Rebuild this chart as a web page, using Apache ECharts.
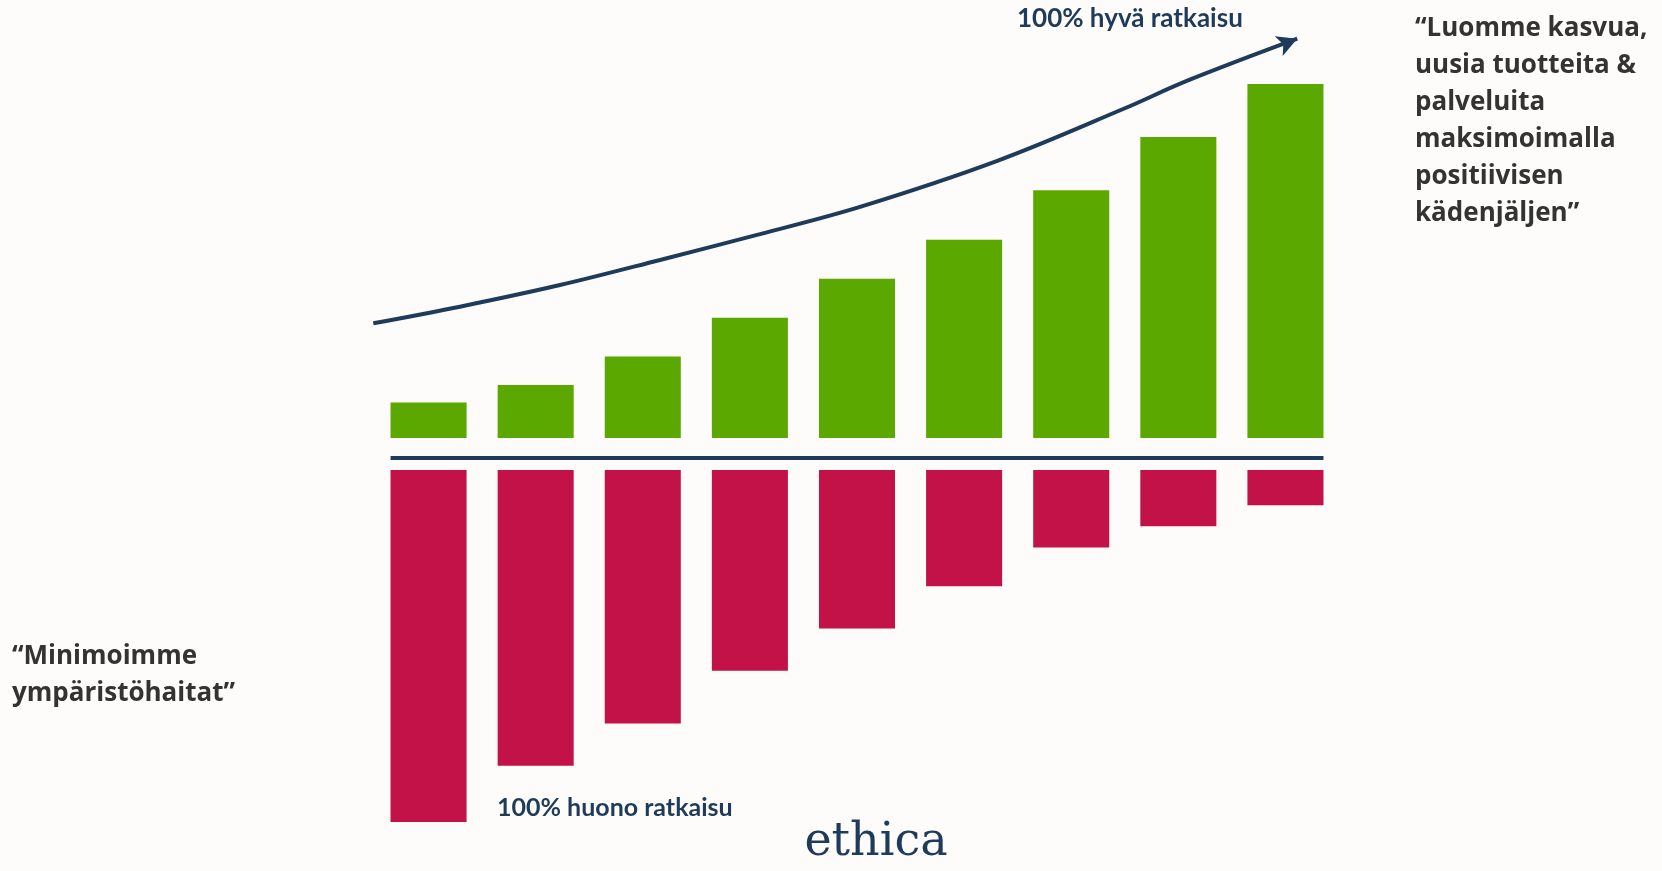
<!DOCTYPE html>
<html>
<head>
<meta charset="utf-8">
<script src="https://cdn.jsdelivr.net/npm/echarts@6/dist/echarts.min.js"></script>
<style>
html,body{margin:0;padding:0;background:#fdfcfa;}
#main{width:1662px;height:871px;}
</style>
</head>
<body>
<div id="main"></div>
<script>
// ---- data ----
const categories = ['1','2','3','4','5','6','7','8','9'];
const positiveValues = [10, 15, 23, 34, 45, 56, 70, 85, 100];
const negativeValues = [100, 84, 72, 57, 45, 33, 22, 16, 10];
// trend arrow (x in category index units, y in positive-axis units)
const trendX = [-0.516, 0.293, 1.227, 2.161, 3.094, 4.028, 5.31, 6.49, 7.09, 8.11];
const trendY = [32.4, 37.1, 43.2, 50.3, 57.6, 65.3, 78.3, 93.0, 101.0, 112.8];
const topLabel = '100% hyvä ratkaisu';
const bottomLabel = '100% huono ratkaisu';
const rightQuote = ['“Luomme kasvua,', 'uusia tuotteita &', 'palveluita', 'maksimoimalla', 'positiivisen', 'kädenjäljen”'];
const leftQuote = ['“Minimoimme', 'ympäristöhaitat”'];
const logoText = 'ethica';

const NAVY = '#1f3b5a';
const GREEN = '#5ba800';
const RED = '#c21247';
const TEXT = '#333333';

const chart = echarts.init(document.getElementById('main'));

const trendData = trendX.map((x, i) => {
  if (i === trendX.length - 1) {
    return { value: [x, trendY[i]], symbol: 'arrow', symbolSize: [16, 20], symbolRotate: -68,
             itemStyle: { color: NAVY } };
  }
  return [x, trendY[i]];
});

const option = {
  backgroundColor: '#fdfcfa',
  animation: false,
  grid: [
    { left: 375, width: 964, top: 84, height: 354 },
    { left: 375, width: 964, top: 470, height: 352 }
  ],
  xAxis: [
    { type: 'category', data: categories, gridIndex: 0, show: false },
    { type: 'category', data: categories, gridIndex: 1, show: false },
    { type: 'value', gridIndex: 0, min: -0.5, max: 8.5, show: false }
  ],
  yAxis: [
    { type: 'value', gridIndex: 0, min: 0, max: 100, show: false },
    { type: 'value', gridIndex: 1, min: 0, max: 100, inverse: true, show: false }
  ],
  series: [
    { type: 'bar', xAxisIndex: 0, yAxisIndex: 0, data: positiveValues,
      barCategoryGap: '29%', itemStyle: { color: GREEN } },
    { type: 'bar', xAxisIndex: 1, yAxisIndex: 1, data: negativeValues,
      barCategoryGap: '29%', itemStyle: { color: RED } },
    { type: 'line', xAxisIndex: 2, yAxisIndex: 0, data: trendData, smooth: 0.35, clip: false,
      symbol: 'circle', symbolSize: 0, showSymbol: true, showAllSymbol: true,
      lineStyle: { color: NAVY, width: 4 }, itemStyle: { color: NAVY } }
  ]
};
chart.setOption(option);

// decorations computed from the axes
const c0 = chart.convertToPixel({ xAxisIndex: 1, yAxisIndex: 1 }, [0, 0]);
const c1 = chart.convertToPixel({ xAxisIndex: 1, yAxisIndex: 1 }, [1, 0]);
const c8 = chart.convertToPixel({ xAxisIndex: 1, yAxisIndex: 1 }, [8, 0]);
const band = c1[0] - c0[0];
const bw = band * 0.71;
const topBase = chart.convertToPixel({ xAxisIndex: 0, yAxisIndex: 0 }, [0, 0])[1];
const lineY = (topBase + c0[1]) / 2 + 4;

const font = 'bold 26px "Open Sans", Lato, sans-serif';
const labelFont = 'bold 25px Lato, "Open Sans", sans-serif';

chart.setOption({
  graphic: [
    { type: 'line', shape: { x1: c0[0] - bw / 2, y1: lineY, x2: c8[0] + bw / 2, y2: lineY },
      style: { stroke: NAVY, lineWidth: 4 } },
    { type: 'text', x: 1017, y: 19, style: { text: topLabel, font: 'bold 26px Lato, "Open Sans", sans-serif', fill: NAVY, verticalAlign: 'middle' } },
    { type: 'text', x: 497, y: 808, style: { text: bottomLabel, font: labelFont, fill: NAVY, verticalAlign: 'middle' } },
    { type: 'text', x: 1415, y: 10, style: { text: rightQuote.join('\n'), font: font, lineHeight: 37, fill: TEXT, verticalAlign: 'top' } },
    { type: 'text', x: 12, y: 638, style: { text: leftQuote.join('\n'), font: font, lineHeight: 37, fill: TEXT, verticalAlign: 'top' } },
    { type: 'text', x: 876, y: 843, style: { text: logoText, font: '46px "DejaVu Serif", serif', fill: NAVY, align: 'center', verticalAlign: 'middle' } }
  ]
});
</script>
</body>
</html>
